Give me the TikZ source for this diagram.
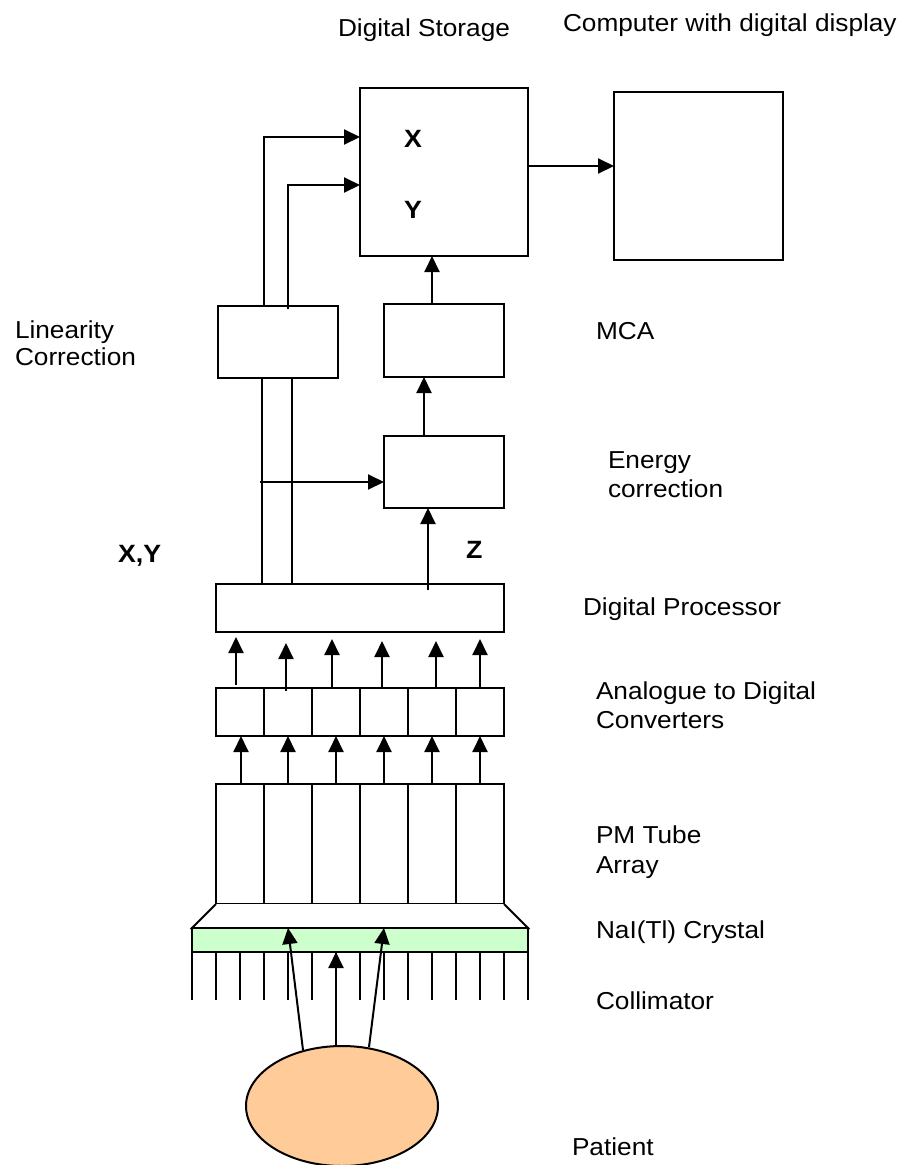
\documentclass[tikz,border=0pt]{standalone}
\usepackage{fontspec}
\setmainfont{Liberation Sans}[FakeStretch=1.07]
\usetikzlibrary{arrows.meta,shapes.geometric}
\definecolor{crystalgreen}{HTML}{CCFFCC}
\definecolor{patientorange}{HTML}{FFCC99}
\begin{document}
\begin{tikzpicture}[x=1pt,y=-1pt,
  every node/.style={inner sep=0pt,outer sep=0pt},
  box/.style={draw,line width=2pt,rectangle},
  lbl/.style={anchor=base west,font=\fontsize{24.5}{28}\selectfont},
  blbl/.style={anchor=base west,font=\fontsize{25}{28}\selectfont\bfseries},
  ln/.style={line width=2pt},
  arr/.style={line width=2pt,-{Triangle[length=16pt,width=15pt]}}]
\useasboundingbox (0,0) rectangle (906,1165);
% boxes
\node[box,minimum width=168pt,minimum height=168pt] (storage) at (444,172) {};
\node[box,minimum width=169pt,minimum height=168pt] (computer) at (698.5,176) {};
\node[box,minimum width=120pt,minimum height=72pt] (lin) at (278,342) {};
\node[box,minimum width=120pt,minimum height=73pt] (mca) at (444,340.5) {};
\node[box,minimum width=120pt,minimum height=72pt] (energy) at (444,472) {};
\node[box,minimum width=288pt,minimum height=48pt] (proc) at (360,608) {};
\foreach \i in {1,...,6}{
  \node[box,minimum width=48pt,minimum height=48pt] (adc\i) at (192+48*\i,712) {};
  \node[box,minimum width=48pt,minimum height=120pt] (pm\i) at (192+48*\i,844) {};
}
% trapezoid and crystal
\draw[ln,fill=white,line join=miter] (pm1.south west) -- (192,928) -- (528,928) -- (pm6.south east);
\node[box,fill=crystalgreen,minimum width=336pt,minimum height=24pt] (crystal) at (360,940) {};
% collimator
\foreach \k in {0,...,14}{
  \draw[ln] (192+24*\k,952) -- (192+24*\k,1000);
}
% patient
\node[draw,line width=2pt,ellipse,fill=patientorange,minimum width=192pt,minimum height=120pt] (patient) at (342,1106) {};
% X, Y into storage
\coordinate (xa) at (264,137);
\coordinate (ya) at (288,185);
\draw[arr] (xa |- lin.north) |- (storage.west |- xa);
\draw[arr] ([yshift=-3pt]ya |- lin.north) |- (storage.west |- ya);
% lines from processor to linearity
\coordinate (xb) at (262,0);
\coordinate (yb) at (292,0);
\draw[ln] (xb |- proc.north) -- (xb |- lin.south);
\draw[ln] (yb |- proc.north) -- (yb |- lin.south);
% horizontal into energy
\coordinate (eh) at (260,482);
\draw[arr] (eh) -- (energy.west |- eh);
% Z arrow
\coordinate (za) at (428,0);
\draw[arr] ([yshift=-6pt]za |- proc.north) -- (za |- energy.south);
% energy -> mca
\coordinate (em) at (424,0);
\draw[arr] (em |- energy.north) -- (em |- mca.south);
% mca -> storage
\coordinate (ms) at (432,0);
\draw[arr] (ms |- mca.north) -- (ms |- storage.south);
% storage -> computer
\coordinate (sc) at (0,166);
\draw[arr] (storage.east |- sc) -- (computer.west |- sc);
% ADC -> processor
\foreach \i/\xx/\t/\h in {1/236/685/637,2/286/691/643,3/332/688/639,4/382/688/641,5/436/688/641,6/480/688/639}{
  \coordinate (ap\i a) at (\xx,\t);
  \coordinate (ap\i b) at (\xx,\h);
  \draw[arr] (ap\i a) -- (ap\i b);
}
% PM -> ADC
\foreach \i/\xx in {1/241,2/288,3/336,4/384,5/432,6/480}{
  \coordinate (pa\i) at (\xx,0);
  \draw[arr] (pa\i |- pm\i.north) -- (pa\i |- adc\i.south);
}
% patient rays
\coordinate (r1a) at (303,1050);
\coordinate (r1b) at (288,928);
\coordinate (r2a) at (336,1046);
\coordinate (r2b) at (336,952);
\coordinate (r3a) at (369,1047);
\coordinate (r3b) at (384,928);
\draw[arr] (r1a) -- (r1b);
\draw[arr] (r2a) -- (r2b);
\draw[arr] (r3a) -- (r3b);
% labels
\node[lbl,anchor=base east] (tstorage) at (510,36) {Digital Storage};
\node[lbl] (tcomputer) at (563,31) {Computer with digital display};
\node[blbl] (tx) at (404,147) {X};
\node[blbl] (ty) at (404,218) {Y};
\node[lbl] (tlin1) at (15,338) {Linearity};
\node[lbl] (tlin2) at (15,365) {Correction};
\node[lbl] (tmca) at (596,339) {MCA};
\node[lbl] (ten1) at (608,468) {Energy};
\node[lbl] (ten2) at (608,497) {correction};
\node[blbl] (txy) at (118,562) {X,Y};
\node[blbl] (tz) at (466,558) {Z};
\node[lbl] (tproc) at (583,615) {Digital Processor};
\node[lbl] (tadc1) at (596,699) {Analogue to Digital};
\node[lbl] (tadc2) at (596,728) {Converters};
\node[lbl] (tpm1) at (596,843) {PM Tube};
\node[lbl] (tpm2) at (596,873) {Array};
\node[lbl] (tcry) at (596,938) {NaI(Tl) Crystal};
\node[lbl] (tcol) at (596,1009) {Collimator};
\node[lbl] (tpat) at (572,1155) {Patient};
\end{tikzpicture}
\end{document}
